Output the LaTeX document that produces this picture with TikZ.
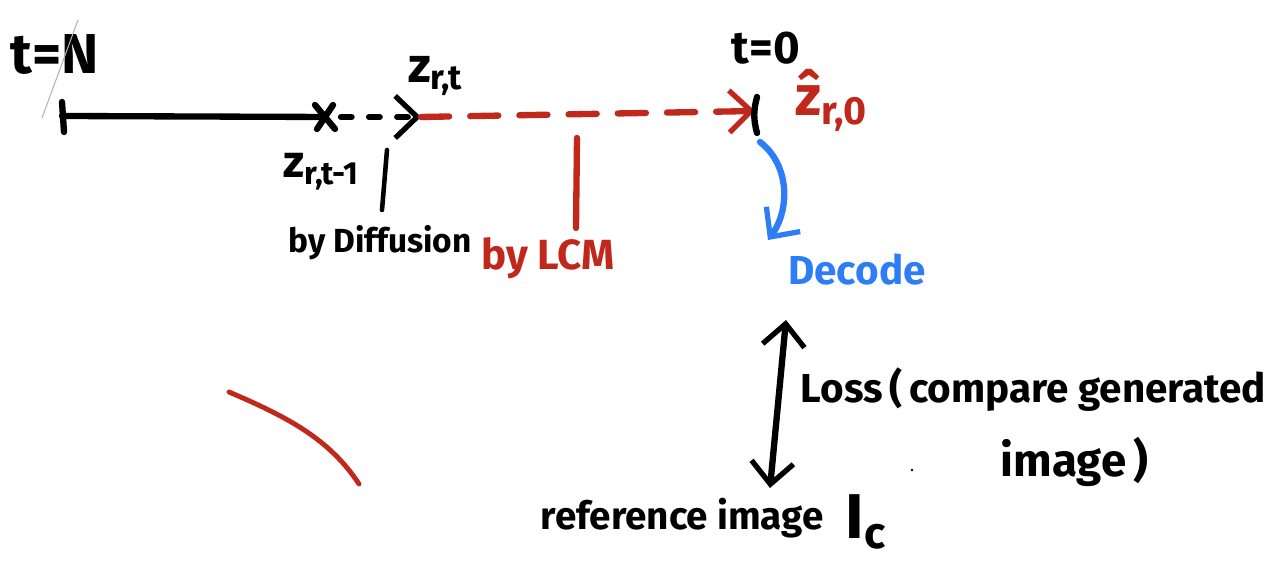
\documentclass[tikz,border=0pt]{standalone}
\usepackage{fontspec}
\setmainfont{Fira Sans}
\usetikzlibrary{arrows.meta, positioning, calc}
\definecolor{penred}{RGB}{192,40,28}
\definecolor{penblue}{RGB}{46,124,246}

\begin{document}
\begin{tikzpicture}[
        x=0.1mm, y=-0.1mm,
        pen/.style={line width=1.8pt, line cap=round, line join=round},
        thinpen/.style={line width=1.3pt, line cap=round},
        barb/.style={-{Straight Barb[length=2.2mm, width=4.2mm, line width=1.5pt]}},
        bothbarb/.style={{Straight Barb[length=2.2mm, width=4.2mm, line width=1.5pt]}-{Straight Barb[length=2.2mm, width=4.2mm, line width=1.5pt]}},
        lbl/.style={inner sep=0pt, font=\bfseries\fontsize{#1}{#1}\selectfont},
        lbl/.default=11
    ]
    \useasboundingbox (0,0) rectangle (1280,575);

    % Row 1: timeline
    \coordinate (tN) at (62,116);
    \coordinate (zprev) at (325,117);
    \coordinate (zt) at (421,117);
    \coordinate (zhat) at (755,111);

    \node (tNlbl) [lbl=16] at (55,55) {t=N};
    \node (t0lbl) [lbl=13] at (766,48) {t=0};
    \node (ztlbl) [lbl=14] at (436,76) {z\textsubscript{r,t}};
    \node (zhatlbl) [lbl=16, text=penred] at (832,100) {\^{z}\textsubscript{r,0}};
    \node (zprevlbl) [lbl=13] at (322,172) {z\textsubscript{r,t-1}};

    \draw [gray!60, line width=0.3pt] (78,20) -- (42,118);
    \draw [pen] ($(tN)+(0,-14)$) -- ($(tN)+(2,16)$);
    \draw [pen] (tN) -- (zprev);
    \draw [pen] ($(zprev)+(-10,-12)$) -- ($(zprev)+(10,12)$);
    \draw [pen] ($(zprev)+(8,-12)$) -- ($(zprev)+(-8,12)$);
    \draw [pen, barb, dash pattern=on 3pt off 5pt] ($(zprev)+(16,0)$) -- (zt);
    \draw [pen, barb, penred, dash pattern=on 8pt off 6pt] (zt) -- (zhat);
    \draw [pen] ($(zhat)+(2,-14)$) to[bend right=15] ($(zhat)+(2,22)$);

    % Row 2: what moves each part
    \node (diff) [lbl=9.5] at (380,243) {by Diffusion};
    \node (lcm) [lbl=12, text=penred] at (548,258) {by LCM};
    \node (decode) [lbl=11.5, text=penblue] at (857,270) {Decode};

    \draw [thinpen] (387,150) -- (382,210);
    \draw [pen, penred] (577,138) -- (576,228);
    \draw [pen, barb, penblue] (760,142) .. controls (790,165) and (790,210) .. (768,240);

    % Row 3: loss
    \node (loss) [lbl=11.5, anchor=west] at (800,390) {Loss\,(\,compare generated};
    \node (loss2) [lbl=13, anchor=west] at (1000,462) {image\,)};
    \node (refimg) [lbl=11, anchor=west] at (540,518) {reference image};
    \node (ic) [lbl=18, anchor=west] at (845,522) {I\textsubscript{c}};
    \fill (912,470) circle (0.4pt);

    \draw [pen, bothbarb] (786,320) -- (770,488);

    % stray stroke
    \draw [penred, line width=1.4pt, line cap=round] (229,392) .. controls (290,418) and (330,440) .. (359,484);
\end{tikzpicture}
\end{document}
